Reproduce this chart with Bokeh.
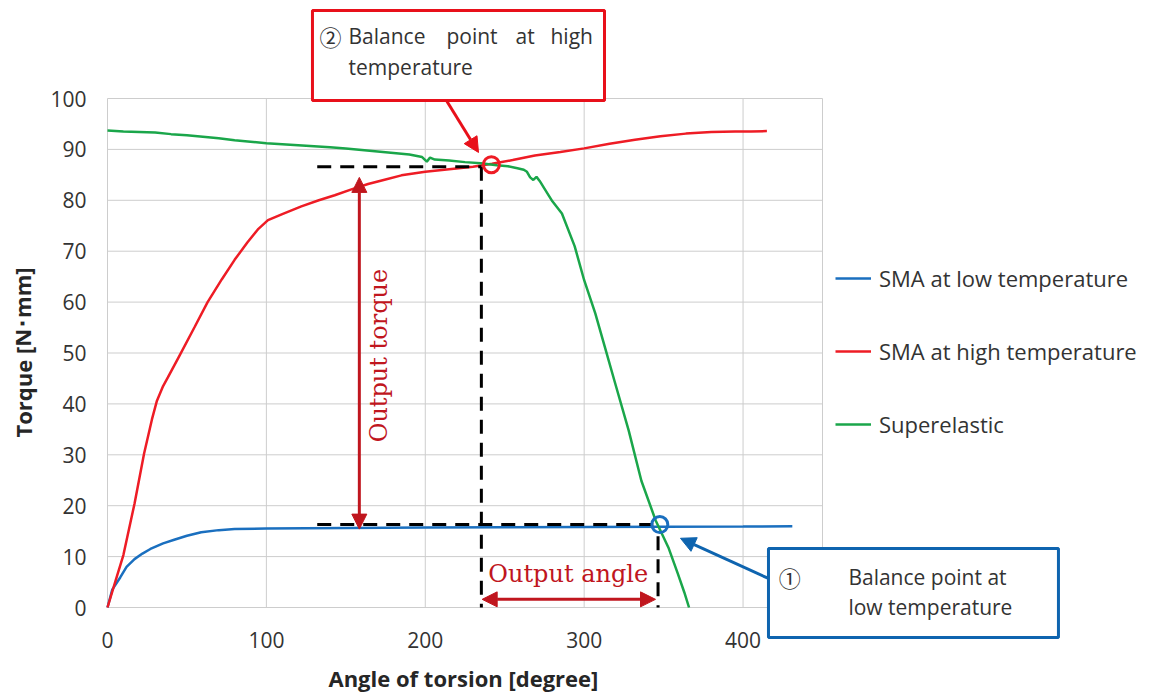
from bokeh.plotting import figure
from bokeh.models import (Range1d, FixedTicker, Legend, LegendItem, Label, BoxAnnotation,
                          Arrow, NormalHead)
from bokeh.embed import file_html
from bokeh.resources import INLINE

# ---------------- data ----------------
low_x = [0, 3, 8, 12, 17, 22, 27, 35, 42, 50, 59, 70, 80, 100, 150, 200, 250, 300, 350, 400, 431]
low_y = [0, 3.5, 5.9, 8.0, 9.5, 10.6, 11.5, 12.6, 13.3, 14.1, 14.8, 15.2, 15.4, 15.5, 15.6, 15.7,
         15.75, 15.8, 15.85, 15.9, 15.95]

high_x = [0, 5, 10, 17, 23, 28, 31, 35, 38, 45, 55, 63, 72, 80, 88, 95, 101, 110, 122, 133, 143,
          154, 164, 175, 185, 200, 215, 230, 242, 255, 269, 285, 300, 316, 332, 348, 364, 380,
          395, 405, 415]
high_y = [0, 5.2, 10.3, 20.4, 30.2, 37.0, 40.5, 43.5, 45.2, 49.3, 55.2, 60.0, 64.5, 68.3, 71.7,
          74.4, 76.1, 77.3, 78.8, 80.0, 81.0, 82.2, 83.2, 84.1, 84.9, 85.6, 86.1, 86.6, 87.2,
          87.9, 88.8, 89.5, 90.2, 91.1, 91.9, 92.6, 93.1, 93.4, 93.5, 93.5, 93.6]

sup_x = [0, 10, 20, 30, 40, 50, 60, 70, 80, 90, 100, 110, 120, 130, 140, 150, 160, 170, 180, 190,
         198, 201, 203, 206, 215, 225, 235, 245, 252, 258, 262, 264, 266, 268, 270, 272, 275, 280,
         286, 294, 300, 307, 313, 319, 328, 336, 345, 353, 359, 363, 366]
sup_y = [93.7, 93.5, 93.4, 93.3, 93.0, 92.8, 92.5, 92.2, 91.8, 91.5, 91.2, 91.0, 90.8, 90.6, 90.4,
         90.2, 89.9, 89.6, 89.3, 89.0, 88.5, 87.6, 88.4, 88.0, 87.8, 87.5, 87.3, 86.9, 86.7, 86.3,
         86.0, 85.6, 84.5, 84.0, 84.6, 83.8, 82.3, 79.8, 77.4, 71.0, 64.3, 57.8, 51.2, 44.6, 34.8,
         24.9, 17.1, 11.8, 6.6, 3.0, 0]

series_names = ["SMA at low temperature", "SMA at high temperature", "Superelastic"]
x_ticks = [0, 100, 200, 300, 400]
y_ticks = [0, 10, 20, 30, 40, 50, 60, 70, 80, 90, 100]
x_max = 450          # right edge of the plot area
y_max = 100

# balance points / construction lines
high_bal = (241.6, 87.0)
low_bal = (347.6, 16.3)
out_torque = (132, 86.6, 235.3)   # x_start, y, x_end of upper dashed line
out_low = (132, 16.3, 345.0)
v1 = (235.3, 86.6)
v2 = (346.5, 14.0)

BLUE = "#1A6FBF"
RED = "#EE1C25"
GREEN = "#1AA64A"
DARKRED = "#C0161E"
GRID = "#CDCDCD"
TXT = "#333333"
FONT = "Open Sans"
CJK = "Noto Sans CJK JP"

# plot area: x 0..450 -> px 107..822 ; y 0..100 -> px 607..98 (canvas fully used as frame)
sx = 715 / 450.0
sy = 509 / 100.0
p = figure(width=1159, height=693, output_backend="svg", toolbar_location=None,
           x_range=Range1d(-107 / sx, (1159 - 107) / sx),
           y_range=Range1d(-(693 - 607) / sy, 607 / sy),
           min_border=0, min_border_left=0, min_border_right=0,
           min_border_top=0, min_border_bottom=0)
p.background_fill_color = "white"
p.border_fill_color = "white"
p.outline_line_color = None
p.xgrid.visible = False
p.ygrid.visible = False

p.xaxis.ticker = FixedTicker(ticks=x_ticks)
p.yaxis.ticker = FixedTicker(ticks=y_ticks)
p.xaxis.fixed_location = 0
p.yaxis.fixed_location = 0
for ax in (p.xaxis[0], p.yaxis[0]):
    ax.axis_line_color = None
    ax.major_tick_line_color = None
    ax.minor_tick_line_color = None
    ax.major_tick_out = 0
    ax.major_tick_in = 0
    ax.major_label_text_font = FONT
    ax.major_label_text_font_size = "21px"
    ax.major_label_text_color = TXT
p.xaxis.major_label_standoff = 24
p.yaxis.major_label_standoff = 21

# grid lines of the plot area (from the tick lists)
vx = x_ticks + [x_max]
p.segment(x0=vx, y0=[0] * len(vx), x1=vx, y1=[y_max] * len(vx),
          line_color=GRID, line_width=1)
p.segment(x0=[0] * len(y_ticks), y0=y_ticks, x1=[x_max] * len(y_ticks), y1=y_ticks,
          line_color=GRID, line_width=1)

# axis titles
p.add_layout(Label(x=(22 - 107) / sx, y=(607 - 352) / sy, text="Torque [N\uff65mm]",
                   angle=1.5708, text_align="center", text_baseline="middle",
                   text_font=FONT, text_font_size="22px", text_font_style="bold",
                   text_color="#262626"))
p.add_layout(Label(x=224, y=(607 - 677) / sy, text="Angle of torsion [degree]",
                   text_align="center", text_baseline="middle",
                   text_font=FONT, text_font_size="22px", text_font_style="bold",
                   text_color="#262626"))

r_low = p.line(low_x, low_y, line_color=BLUE, line_width=2.5)
r_high = p.line(high_x, high_y, line_color=RED, line_width=2.5)
r_sup = p.line(sup_x, sup_y, line_color=GREEN, line_width=2.5)

# dashed construction lines
dash = dict(line_color="black", line_width=3, line_dash="14 9")
p.line([out_torque[0], out_torque[2]], [out_torque[1], out_torque[1]], **dash)
p.line([out_low[0], out_low[2]], [out_low[1], out_low[1]], **dash)
p.line([v1[0], v1[0]], [v1[1], 0], **dash)
p.line([v2[0], v2[0]], [v2[1], 0], **dash)

# balance point circles
p.scatter([high_bal[0]], [high_bal[1]], marker="circle", size=16, fill_color=None,
          line_color=RED, line_width=3)
p.scatter([low_bal[0]], [low_bal[1]], marker="circle", size=16, fill_color=None,
          line_color=BLUE, line_width=3)

# output torque / angle arrows
def head(c):
    return NormalHead(size=15, fill_color=c, line_color=c)

p.add_layout(Arrow(x_start=158.5, y_start=15.4, x_end=158.5, y_end=84.5,
                   line_color=DARKRED, line_width=3, start=head(DARKRED), end=head(DARKRED)))
p.add_layout(Arrow(x_start=235.8, y_start=1.6, x_end=344.9, y_end=1.6,
                   line_color=DARKRED, line_width=3, start=head(DARKRED), end=head(DARKRED)))
p.add_layout(Label(x=171, y=49.5, text="Output torque", angle=1.5708,
                   text_align="center", text_baseline="middle",
                   text_font="DejaVu Serif", text_font_size="24px", text_color=DARKRED))
p.add_layout(Label(x=290, y=6.6, text="Output angle",
                   text_align="center", text_baseline="middle",
                   text_font="DejaVu Serif", text_font_size="24px", text_color=DARKRED))

# callout box: high temperature
p.add_layout(BoxAnnotation(left=129.0, right=312.8, bottom=99.6, top=117.3,
                           fill_color="white", fill_alpha=1.0,
                           line_color="#E8101A", line_alpha=1.0, line_width=3))
p.add_layout(Label(x=133.5, y=112.3, text="\u2461", text_align="left", text_baseline="middle",
                   text_font=CJK, text_font_size="22px", text_color=TXT))
words1 = [("Balance", 151.7), ("point", 213.3), ("at", 256.8), ("high", 278.8)]
for w, xx in words1:
    p.add_layout(Label(x=xx, y=112.3, text=w, text_align="left", text_baseline="middle",
                       text_font=FONT, text_font_size="21px", text_color=TXT))
p.add_layout(Label(x=151.7, y=106.2, text="temperature", text_align="left",
                   text_baseline="middle", text_font=FONT, text_font_size="21px",
                   text_color=TXT))
p.add_layout(Arrow(x_start=213.3, y_start=99.6, x_end=233.5, y_end=89.4,
                   line_color="#E8101A", line_width=3, end=head("#E8101A")))

# callout box: low temperature
p.add_layout(BoxAnnotation(left=416.0, right=598.5, bottom=-5.9, top=11.6,
                           fill_color="white", fill_alpha=1.0,
                           line_color="#0E64AF", line_alpha=1.0, line_width=3))
p.add_layout(Label(x=422.5, y=6.0, text="\u2460", text_align="left", text_baseline="middle",
                   text_font=CJK, text_font_size="22px", text_color=TXT))
p.add_layout(Label(x=466.3, y=6.0, text="Balance point at", text_align="left",
                   text_baseline="middle", text_font=FONT, text_font_size="21px",
                   text_color=TXT))
p.add_layout(Label(x=466.3, y=0.1, text="low temperature", text_align="left",
                   text_baseline="middle", text_font=FONT, text_font_size="21px",
                   text_color=TXT))
p.add_layout(Arrow(x_start=416.0, y_start=5.7, x_end=360.6, y_end=13.6,
                   line_color="#0E64AF", line_width=3, end=head("#0E64AF")))

legend = Legend(items=[LegendItem(label=series_names[0], renderers=[r_low]),
                       LegendItem(label=series_names[1], renderers=[r_high]),
                       LegendItem(label=series_names[2], renderers=[r_sup])],
                location=(835, 254), margin=0, padding=0, spacing=43,
                glyph_width=36, glyph_height=20, label_height=20, label_standoff=8,
                label_text_font=FONT, label_text_font_size="22px",
                label_text_color=TXT, border_line_color=None, background_fill_alpha=0)
p.add_layout(legend)

open("out.html", "w").write(file_html(p, INLINE))
